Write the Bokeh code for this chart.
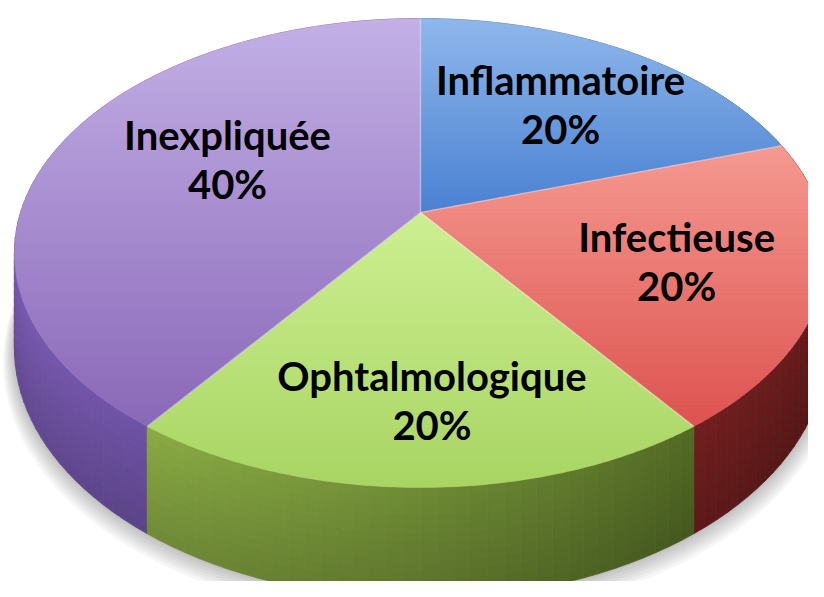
import numpy as np
from bokeh.plotting import figure
from bokeh.models import Range1d, ColumnDataSource
from bokeh.embed import file_html
from bokeh.resources import INLINE
from bokeh.core.properties import value

# ---------------- data ----------------
categories = ["Inflammatoire", "Infectieuse", "Ophtalmologique", "Inexpliquée"]
percents = [20, 20, 20, 40]
pct_labels = ["20%", "20%", "20%", "40%"]

# ---------------- styles ----------------
top_light = ["#8fb7ec", "#f59a91", "#cdef92", "#c3b0e6"]
top_dark = ["#4a81d1", "#dd5350", "#a8d563", "#8a68b8"]
side_left = ["#4a6fa8", "#9a3030", "#8fb048", "#6f53a2"]
side_right = ["#2c4a7c", "#5a1717", "#3a4d18", "#3a2868"]
label_r = [0.65, 0.65, 0.72, 0.563]
label_dtheta = [0.0, 0.0, -2.0, 8.6]

# view geometry (perspective of the disc)
CX, CY = 420.0, 212.0
A = 400.0
K = 0.1727
C1 = -190.9
H = 92.0


def proj(theta_deg, r=1.0):
    t = np.radians(theta_deg)
    u = r * np.sin(t)
    v = r * np.cos(t)
    w = 1 + K * v
    return CX + A * u / w, (CY + C1 * v) / w, w, u, v


def hex2rgb(h):
    h = h.lstrip("#")
    return np.array([int(h[i:i + 2], 16) for i in (0, 2, 4)], dtype=float)


def rgb2hex(c):
    c = np.clip(np.round(c), 0, 255).astype(int)
    return "#%02x%02x%02x" % tuple(c)


def mix(c1, c2, t):
    return hex2rgb(c1) * (1 - t) + hex2rgb(c2) * t


def clip_y(pts, yc, keep_above):
    out = []
    n = len(pts)
    for i in range(n):
        p = pts[i]
        q = pts[(i + 1) % n]
        pin = (p[1] >= yc) if keep_above else (p[1] <= yc)
        qin = (q[1] >= yc) if keep_above else (q[1] <= yc)
        if pin:
            out.append(p)
        if pin != qin:
            t = (yc - p[1]) / (q[1] - p[1])
            out.append((p[0] + t * (q[0] - p[0]), yc))
    return out


total = float(sum(percents))
bounds = [0.0]
for pc in percents:
    bounds.append(bounds[-1] + 360.0 * pc / total)


def slice_of(theta):
    for i in range(len(percents)):
        if bounds[i] <= theta < bounds[i + 1]:
            return i
    return len(percents) - 1


p = figure(width=808, height=581, x_range=Range1d(0, 808), y_range=Range1d(581, 0),
           output_backend="svg", toolbar_location=None, min_border=0)
p.axis.visible = False
p.grid.visible = False
p.outline_line_color = None
p.background_fill_color = "white"
p.border_fill_color = "white"

# ---------------- shadow ----------------
angs = np.arange(0, 360, 2.0)
bx, by = [], []
for a in angs:
    x, y, w, u, v = proj(a)
    bx.append(x)
    by.append(y + H / w)
bx = np.array(bx)
by = np.array(by)
sh_xs, sh_ys = [], []
for i in range(1, 8):
    s = 1 + 0.004 * i
    sh_xs.append(list(CX + (bx - CX) * s))
    sh_ys.append(list(CY + (by - CY) * s + 1.5 * i))
p.patches(xs=sh_xs, ys=sh_ys, fill_color="#000000", fill_alpha=0.035, line_color=None)

# ---------------- side wall ----------------
step = 2.0
nsub = 12
quads = []
for a in np.arange(0, 360, step):
    a2 = a + step
    am = a + step / 2
    si = slice_of(am)
    x1, y1, w1, _, _ = proj(a)
    x2, y2, w2, _, _ = proj(a2)
    _, _, _, um, vm = proj(am)
    base = mix(side_left[si], side_right[si], (um + 1) / 2)
    for k in range(nsub):
        f0 = k / nsub
        f1 = (k + 1) / nsub
        fac = 1.1 - 0.2 * (f0 + f1) / 2
        col = rgb2hex(base * fac)
        xs = [x1, x2, x2, x1]
        ys = [y1 + f0 * H / w1, y2 + f0 * H / w2, y2 + f1 * H / w2 + 0.4, y1 + f1 * H / w1 + 0.4]
        quads.append((vm, xs, ys, col))
quads.sort(key=lambda q: -q[0])
p.patches(xs=[q[1] for q in quads], ys=[q[2] for q in quads],
          fill_color=[q[3] for q in quads], line_color=[q[3] for q in quads], line_width=0.7)

# ---------------- top faces ----------------
txs, tys, tcols = [], [], []
for i in range(len(percents)):
    pts = [(CX, CY)]
    for a in np.linspace(bounds[i], bounds[i + 1], 80):
        x, y, _, _, _ = proj(a)
        pts.append((x, y))
    ys_all = [q[1] for q in pts]
    ymin, ymax = min(ys_all), max(ys_all)
    band = 4.0
    y0 = ymin
    while y0 < ymax:
        y1 = y0 + band
        poly = clip_y(pts, y0, True)
        if poly:
            poly = clip_y(poly, y1 + 0.6, False)
        if len(poly) >= 3:
            t = ((y0 + y1) / 2 - ymin) / (ymax - ymin)
            col = rgb2hex(mix(top_light[i], top_dark[i], min(max(t, 0), 1)))
            txs.append([q[0] for q in poly])
            tys.append([q[1] for q in poly])
            tcols.append(col)
        y0 = y1
p.patches(xs=txs, ys=tys, fill_color=tcols, line_color=tcols, line_width=0.4)

# separators on the top face
sep_xs, sep_ys = [], []
for b in bounds[:-1]:
    x, y, _, _, _ = proj(b)
    sep_xs.append([CX, x])
    sep_ys.append([CY, y])
p.multi_line(xs=sep_xs, ys=sep_ys, line_color="white", line_alpha=0.35, line_width=1.5)

# ---------------- labels ----------------
lx, ly_name, ly_pct = [], [], []
for i in range(len(percents)):
    mid = (bounds[i] + bounds[i + 1]) / 2 + label_dtheta[i]
    x, y, _, _, _ = proj(mid, label_r[i])
    lx.append(x)
    ly_name.append(y - 23)
    ly_pct.append(y + 26)
src = ColumnDataSource(dict(x=lx, yn=ly_name, yp=ly_pct, name=categories, pct=pct_labels))
for col in ("yn", "yp"):
    p.text(x="x", y=col, text="name" if col == "yn" else "pct", source=src,
           text_font=value("Lato"), text_font_style="bold", text_font_size="40px",
           text_align="center", text_baseline="alphabetic", text_color="black")

open("out.html", "w").write(file_html(p, INLINE))
